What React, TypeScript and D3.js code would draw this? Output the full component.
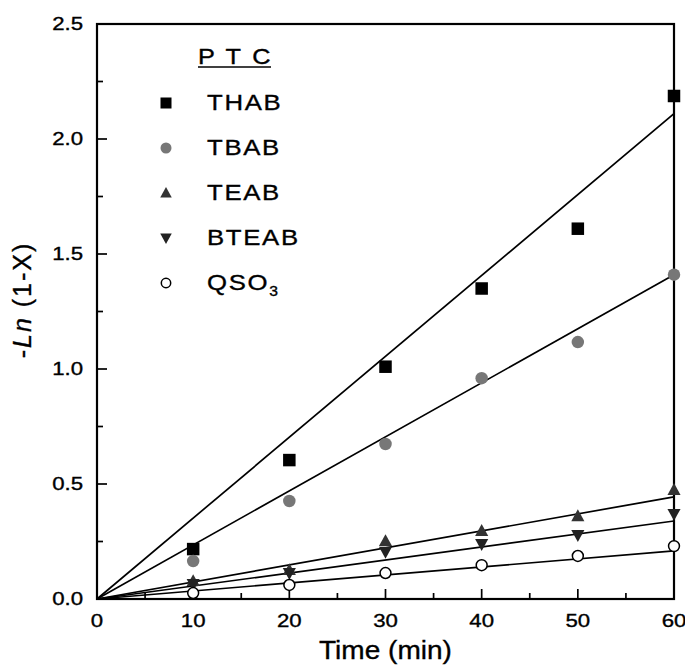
import React from "react";
import * as d3 from "d3";

const times = [10, 20, 30, 40, 50, 60];
const seriesNames = ["THAB", "TBAB", "TEAB", "BTEAB", "QSO3"];
const thab = [0.217, 0.604, 1.01, 1.35, 1.61, 2.187];
const tbab = [0.165, 0.426, 0.674, 0.96, 1.117, 1.41];
const teab = [0.078, 0.126, 0.252, 0.296, 0.36, 0.474];
const bteab = [0.065, 0.113, 0.205, 0.239, 0.278, 0.37];
const qso3 = [0.026, 0.061, 0.113, 0.147, 0.187, 0.23];
// fitted line value at t = 60 (lines pass through origin)
const fitAt60 = [2.11, 1.41, 0.444, 0.339, 0.209];
const xTicks = [0, 10, 20, 30, 40, 50, 60];
const yTicks = [0, 0.5, 1.0, 1.5, 2.0, 2.5];

const W = 685, H = 668;
const L = 97, R = 674, T = 24, B = 599;
const FONT = "'Liberation Sans', Arial, Helvetica, sans-serif";

const x = d3.scaleLinear().domain([0, 60]).range([L, R]);
const y = d3.scaleLinear().domain([0, 2.5]).range([B, T]);

type Kind = "square" | "circle" | "up" | "down" | "open";
const kinds: Kind[] = ["square", "circle", "up", "down", "open"];
const allData = [thab, tbab, teab, bteab, qso3];

function Marker({ kind, cx, cy, s }: { kind: Kind; cx: number; cy: number; s: number }) {
  if (kind === "square")
    return <rect x={cx - s / 2} y={cy - s / 2} width={s} height={s} fill="#000" />;
  if (kind === "circle") return <circle cx={cx} cy={cy} r={s / 2} fill="#777" />;
  if (kind === "open")
    return <circle cx={cx} cy={cy} r={s / 2 - 0.8} fill="#fff" stroke="#000" strokeWidth={1.5} />;
  const h = s * 0.95;
  const w = s * 1.05;
  if (kind === "up")
    return (
      <path
        d={`M${cx},${cy - h * 0.58} L${cx + w / 2},${cy + h * 0.42} L${cx - w / 2},${cy + h * 0.42} Z`}
        fill="#333"
      />
    );
  return (
    <path
      d={`M${cx},${cy + h * 0.58} L${cx + w / 2},${cy - h * 0.42} L${cx - w / 2},${cy - h * 0.42} Z`}
      fill="#222"
    />
  );
}

function Txt({
  x: tx, y: ty, size, sx = 1, anchor = "start", ls = 0, children,
}: { x: number; y: number; size: number; sx?: number; anchor?: string; ls?: number; children: React.ReactNode }) {
  return (
    <text
      transform={`translate(${tx},${ty}) scale(${sx},1)`}
      textAnchor={anchor}
      fontFamily={FONT}
      fontSize={size}
      letterSpacing={ls}
      fill="#000"
      stroke="#000"
      strokeWidth={0.35}
    >
      {children}
    </text>
  );
}

export default function App() {
  const minorX = d3.range(5, 60, 10);
  const minorY = d3.range(0.25, 2.5, 0.5);
  const legendRows = [110, 155, 200, 245, 290];
  return (
    <svg width={W} height={H} style={{ position: "absolute", left: 0, top: 0 }}>
      <rect width={W} height={H} fill="#fff" />
      {fitAt60.map((v, i) => (
        <line key={"f" + i} x1={x(0)} y1={y(0)} x2={x(60)} y2={y(v)} stroke="#000" strokeWidth={1.7} />
      ))}
      {xTicks.slice(1, -1).map((t) => (
        <line key={"xt" + t} x1={x(t)} x2={x(t)} y1={B} y2={B - 10} stroke="#000" strokeWidth={1.7} />
      ))}
      {minorX.map((t) => (
        <line key={"xm" + t} x1={x(t)} x2={x(t)} y1={B} y2={B - 6} stroke="#000" strokeWidth={1.7} />
      ))}
      {yTicks.slice(1, -1).map((t) => (
        <line key={"yt" + t} x1={L} x2={L + 10} y1={y(t)} y2={y(t)} stroke="#000" strokeWidth={1.7} />
      ))}
      {minorY.map((t) => (
        <line key={"ym" + t} x1={L} x2={L + 6} y1={y(t)} y2={y(t)} stroke="#000" strokeWidth={1.7} />
      ))}
      <rect x={L} y={T} width={R - L} height={B - T} fill="none" stroke="#000" strokeWidth={2.2} />
      {allData.map((arr, si) =>
        arr.map((v, j) => (
          <Marker key={si + "-" + j} kind={kinds[si]} cx={x(times[j])} cy={y(v)} s={12.5} />
        ))
      )}
      {xTicks.map((t) => (
        <Txt key={"xl" + t} x={x(t)} y={627} size={18.5} sx={1.2} anchor="middle">
          {t}
        </Txt>
      ))}
      {yTicks.map((t) => (
        <Txt key={"yl" + t} x={83} y={y(t) + 6} size={18.5} sx={1.2} anchor="end">
          {t.toFixed(1)}
        </Txt>
      ))}
      <Txt x={(L + R) / 2} y={659} size={25.5} sx={1.1} anchor="middle">
        Time (min)
      </Txt>
      <text
        transform={`translate(31, 300) rotate(-90)`}
        textAnchor="middle"
        fontFamily={FONT}
        fontSize={25}
        letterSpacing={2}
        fill="#000"
        stroke="#000"
        strokeWidth={0.35}
      >
        -<tspan fontStyle="italic">Ln</tspan> (1-X)
      </text>
      <Txt x={198} y={64} size={22} sx={1.15} ls={2}>
        P T C
      </Txt>
      <line x1={198} x2={271} y1={67} y2={67} stroke="#000" strokeWidth={1.6} />
      {seriesNames.map((n, i) => (
        <g key={"lg" + n}>
          <Marker kind={kinds[i]} cx={166} cy={legendRows[i] - 7} s={11} />
          <Txt x={207} y={legendRows[i]} size={23} sx={1.12} ls={1.5}>
            {n === "QSO3" ? (
              <>
                QSO<tspan fontSize={14} dy={6}>3</tspan>
              </>
            ) : (
              n
            )}
          </Txt>
        </g>
      ))}
    </svg>
  );
}
